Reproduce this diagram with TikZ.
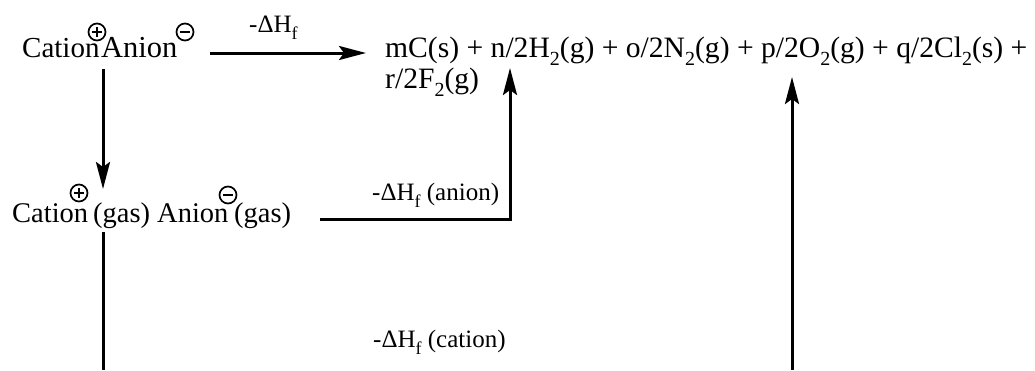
\documentclass[tikz,border=0pt]{standalone}
\usepackage{fontspec}
\setmainfont{Liberation Serif}
\usepackage{tikz}
\usetikzlibrary{arrows.meta,positioning,calc}
\newcommand{\chsub}[1]{\raisebox{-0.28em}{\fontsize{20}{20}\selectfont #1}}
\newcommand{\lsub}[1]{\raisebox{-0.3em}{\fontsize{18}{18}\selectfont #1}}
\tikzset{
  species/.style={inner sep=0pt, anchor=base west, font=\fontsize{28.5}{31}\selectfont},
  enth/.style={inner sep=0pt, anchor=base west, font=\fontsize{25}{28}\selectfont},
  charge/.style={circle, draw, line width=1.7pt, minimum size=17pt, inner sep=0pt},
  plus/.style={charge, path picture={
      \draw[line width=1.7pt] ($(path picture bounding box.center)+(-5pt,0)$) -- ($(path picture bounding box.center)+(5pt,0)$)
        ($(path picture bounding box.center)+(0,-5pt)$) -- ($(path picture bounding box.center)+(0,5pt)$);}},
  minus/.style={charge, path picture={
      \draw[line width=1.7pt] ($(path picture bounding box.center)+(-5pt,0)$) -- ($(path picture bounding box.center)+(5pt,0)$);}},
  route/.style={line width=3pt},
  react/.style={route, -{Stealth[length=27pt, width=14pt, inset=5pt]}}
}
\begin{document}
\begin{tikzpicture}[x=1pt, y=-1pt]
          \useasboundingbox (0,0) rectangle (1035,370);
          % top row
          \node[species, font=\fontsize{29}{31}\selectfont] (cat1) at (22,57) {Cation};
          \node[species, font=\fontsize{30.5}{31}\selectfont] (an1) at (101,57) {Anion};
          \node[plus] (pl1) at (97,32) {};
          \node[minus] (mi1) at (185,32) {};
          \node[species, font=\fontsize{29.6}{31}\selectfont, align=left] (prod) at (385,88) {mC(s) + n/2H\chsub{2}(g) + o/2N\chsub{2}(g) + p/2O\chsub{2}(g) + q/2Cl\chsub{2}(s) +\\r/2F\chsub{2}(g)};
          \node[enth] (dh) at (249,32) {-ΔH\lsub{f}};
          % gas phase
          \node[species] (cat2) at (12,222) {Cation};
          \node[species] (gas1) at (93,222) {(gas)};
          \node[species] (an2) at (157,222) {Anion};
          \node[species] (gas2) at (234,222) {(gas)};
          \node[plus] (pl2) at (79,193) {};
          \node[minus] (mi2) at (228,195) {};
          \node[enth] (dhan) at (372,200) {-ΔH\lsub{f} (anion)};
          \node[enth] (dhcat) at (373,347) {-ΔH\lsub{f} (cation)};
          % connectors
          \coordinate (s1) at (210,53);
          \coordinate (e1) at (366,53);
          \coordinate (s2) at (103,69);
          \coordinate (e2) at (103,189);
          \coordinate (s3) at (320,219);
          \coordinate (e3) at (510,68);
          \coordinate (s4) at (103,232);
          \coordinate (e4) at (103,370);
          \coordinate (s5) at (792,370);
          \coordinate (e5) at (792,77);
          \draw[react] (s1) -- (e1);
          \draw[react] (s2) -- (e2);
          \draw[react] (s3) -| (e3);
          \draw[route] (s4) -- (e4);
          \draw[react] (s5) -- (e5);
        \end{tikzpicture}
\end{document}
